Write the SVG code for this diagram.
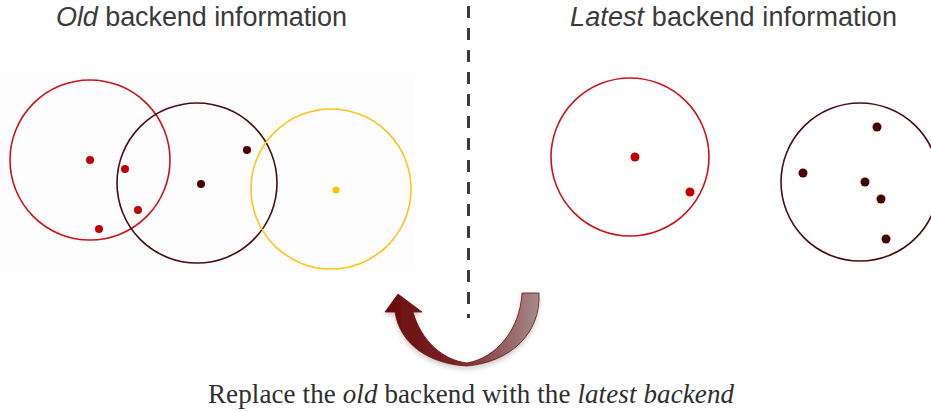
<svg xmlns="http://www.w3.org/2000/svg" width="931" height="412" viewBox="0 0 931 412">
<defs>
<style>
.title{font-family:"Liberation Sans",Arial,sans-serif;font-size:27px;fill:#3a3a3a}
.cap{font-family:"Liberation Serif","Times New Roman",serif;font-size:27px;fill:#2e2e2e}
.ring{fill:none;stroke-width:1.6}
.red{stroke:#c8141c}
.dark{stroke:#4a0c0c}
.yel{stroke:#ffc21a}
.dr{fill:#c00000}
.dd{fill:#4a0000}
.dy{fill:#ffc000}
</style>
<linearGradient id="ag" x1="385" y1="0" x2="540" y2="0" gradientUnits="userSpaceOnUse">
<stop offset="0" stop-color="#6a0c0c"/>
<stop offset="0.45" stop-color="#7a2424"/>
<stop offset="1" stop-color="#a88c8c"/>
</linearGradient>
<filter id="sh" x="-20%" y="-20%" width="140%" height="160%">
<feDropShadow dx="0" dy="3" stdDeviation="2.5" flood-color="#000" flood-opacity="0.2"/>
</filter>
</defs>
<rect x="0" y="73" width="415" height="198" fill="#fdfdfd"/>
<text class="title" x="56" y="26" textLength="291"><tspan font-style="italic">Old</tspan> backend information</text>
<text class="title" x="570" y="26" textLength="327"><tspan font-style="italic">Latest</tspan> backend information</text>
<g id="divider">
<line x1="468.5" y1="6" x2="468.5" y2="318" stroke="#3c3c3c" stroke-width="3" stroke-dasharray="12 10"/>
</g>
<g id="old-red">
<circle class="ring red" cx="90" cy="160" r="80"/>
<circle class="dr" cx="90" cy="160" r="4"/>
<circle class="dr" cx="125" cy="169" r="4"/>
<circle class="dr" cx="138" cy="210" r="4"/>
<circle class="dr" cx="99" cy="229" r="4"/>
</g>
<g id="old-dark">
<circle class="ring dark" cx="197" cy="183" r="80"/>
<circle class="dd" cx="201" cy="184" r="4"/>
<circle class="dd" cx="247" cy="150" r="4"/>
</g>
<g id="old-yellow">
<circle class="ring yel" cx="331" cy="189" r="80"/>
<circle class="dy" cx="336" cy="190" r="3.5"/>
</g>
<g id="new-red">
<circle class="ring red" cx="630" cy="157" r="79"/>
<circle class="dr" cx="635" cy="157" r="4.5"/>
<circle class="dr" cx="690" cy="192" r="4.5"/>
</g>
<g id="new-dark">
<circle class="ring dark" cx="860" cy="182" r="79"/>
<circle class="dd" cx="877" cy="127" r="4.5"/>
<circle class="dd" cx="803" cy="173" r="4.5"/>
<circle class="dd" cx="865" cy="182" r="4.5"/>
<circle class="dd" cx="881" cy="199" r="4.5"/>
<circle class="dd" cx="886" cy="239" r="4.5"/>
</g>
<g id="connectors">
<path d="M395,312 L385,312 L398,294 L422,312 L413,312 C421,340 442,360 467,363 C496,358 520,330 522,293 L539,293 C541,334 510,362 467,366 C430,364 400,345 395,312 Z" fill="url(#ag)" stroke="#6a1010" stroke-width="0.8" filter="url(#sh)"/>
</g>
<text class="cap" x="208" y="403" textLength="526"><tspan>Replace the </tspan><tspan font-style="italic">old</tspan><tspan> backend with the </tspan><tspan font-style="italic">latest backend</tspan></text>
</svg>
